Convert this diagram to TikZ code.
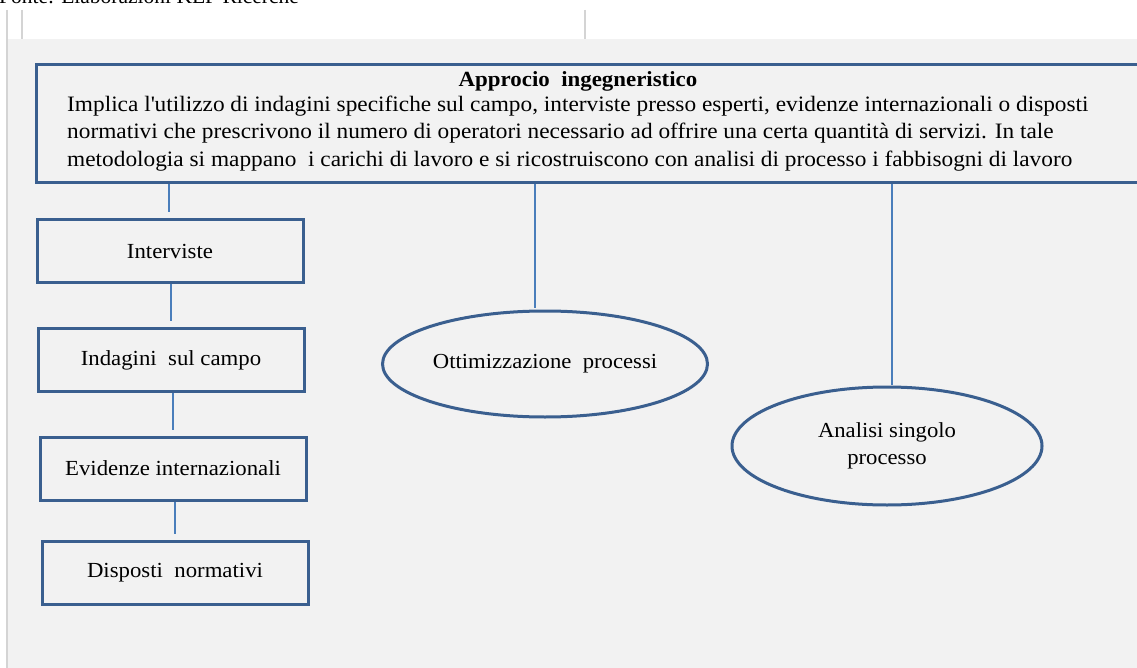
\documentclass[tikz,border=0pt]{standalone}
\usepackage{fontspec}
\setmainfont{Liberation Serif}
\usetikzlibrary{shapes.geometric}
\definecolor{frameblue}{HTML}{3A5F8F}
\definecolor{linkblue}{HTML}{4A7EBB}
\definecolor{panel}{HTML}{F2F2F2}
\definecolor{tablerule}{HTML}{D4D4D4}
\newfontfamily\widefont[FakeStretch=1.06]{Liberation Serif}
\begin{document}
\begin{tikzpicture}[x=1pt,y=-1pt,
  stepbox/.style={draw=frameblue, line width=3pt, fill=panel, rectangle,
    minimum width=266pt, minimum height=63pt, inner sep=0pt,
    font=\widefont\fontsize{21.5}{26}\selectfont},
  oval/.style={draw=frameblue, line width=3pt, fill=panel, ellipse,
    inner sep=0pt, align=center, font=\widefont\fontsize{21.4}{26.5}\selectfont},
  connector/.style={draw=linkblue, line width=1.2pt}]
\useasboundingbox (0,0) rectangle (1137,668);
\clip (0,0) rectangle (1137,668);
% page background and table rules
\fill[panel] (7,39) rectangle (1137,668);
\draw[tablerule, line width=1.5pt] (7,10) -- (7,668);
\draw[tablerule, line width=1.5pt] (22,10) -- (22,39);
\draw[tablerule, line width=1.5pt] (585,10) -- (585,39);
% source line, partly cut by the page top
\node[anchor=base west, inner sep=0pt, font=\fontsize{21.5}{24}\selectfont] (fonte) at (-1,4) {Fonte: Elaborazioni KEF Ricerche};
% main description box
\node[draw=frameblue, line width=3pt, fill=panel, rectangle, inner sep=0pt,
  minimum width=1130pt, minimum height=118pt, anchor=north west] (top) at (35,63) {};
\node[inner sep=0pt, anchor=base, font=\widefont\fontsize{21.6}{24}\selectfont\bfseries] (title) at (578,87) {Approcio\ \ ingegneristico};
\node[inner sep=0pt, anchor=north west, align=left, font=\widefont\fontsize{22}{27.5}\selectfont] (body) at (67,95.5)
  {Implica l\textquotesingle utilizzo di indagini specifiche sul campo, interviste presso esperti, evidenze internazionali o disposti\\
   normativi che prescrivono il numero di operatori necessario ad offrire una certa quantità di servizi. In tale\\
   metodologia si mappano\ \ i carichi di lavoro e si ricostruiscono con analisi di processo i fabbisogni di lavoro};
% left column of methods
\node[stepbox] (inter) at (170,251) {Interviste};
\node[stepbox] (indag) at (171,360) {Indagini\ \ sul campo};
\node[stepbox] (evid) at (173,468.5) {Evidenze internazionali};
\node[stepbox] (disp) at (175,573) {Disposti\ \ normativi};
% right side ellipses
\node[oval, minimum width=325pt, minimum height=106pt] (ottim) at (545,364) {Ottimizzazione\ \ processi};
\node[oval, minimum width=310pt, minimum height=118pt] (anal) at (887,446) {Analisi singolo\\processo};
% connectors
\draw[connector] ([xshift=-1pt]inter.north |- top.south) -- ([xshift=-1pt,yshift=6pt]inter.north);
\draw[connector] (indag.north |- inter.south) -- ([yshift=6pt]indag.north);
\draw[connector] (evid.north |- indag.south) -- ([yshift=6pt]evid.north);
\draw[connector] (disp.north |- evid.south) -- ([yshift=6pt]disp.north);
\draw[connector] ([xshift=-10pt]ottim.north |- top.south) -- ([xshift=-10pt,yshift=2pt]ottim.north);
\draw[connector] ([xshift=5pt]anal.north |- top.south) -- ([xshift=5pt,yshift=1pt]anal.north);
\end{tikzpicture}
\end{document}
